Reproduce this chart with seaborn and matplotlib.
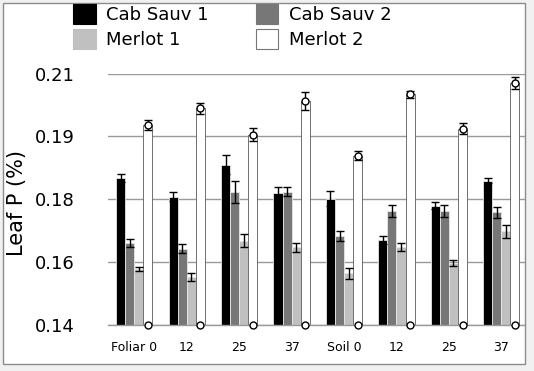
import matplotlib
matplotlib.use("Agg")
import matplotlib.pyplot as plt
from matplotlib.patches import Patch, Rectangle
import numpy as np
import pandas as pd
import seaborn as sns

# Treatment groups (keys unique for seaborn, labels shown on the axis)
group_keys = ["F0", "F12", "F25", "F37", "S0", "S12", "S25", "S37"]
group_labels = ["Foliar 0", "12", "25", "37", "Soil 0", "12", "25", "37"]

series = ["Cab Sauv 1", "Cab Sauv 2", "Merlot 1", "Merlot 2"]
colors = ["#000000", "#777777", "#c0c0c0", "#ffffff"]

# Leaf P (%) means and errors
cab1 = [0.1809, 0.1757, 0.1846, 0.1768, 0.1751, 0.1636, 0.1732, 0.1802]
cab1_err = [0.0012, 0.0012, 0.0026, 0.0015, 0.0021, 0.0012, 0.0009, 0.0007]
cab2 = [0.1629, 0.1612, 0.1770, 0.1771, 0.1648, 0.1718, 0.1718, 0.1713]
cab2_err = [0.0011, 0.0012, 0.0030, 0.0012, 0.0014, 0.0017, 0.0017, 0.0015]
mer1 = [0.1556, 0.1532, 0.1634, 0.1616, 0.1543, 0.1616, 0.1573, 0.1660]
mer1_err = [0.0005, 0.0011, 0.0018, 0.0013, 0.0016, 0.0011, 0.0008, 0.0018]
mer2 = [0.1957, 0.2003, 0.1930, 0.2025, 0.1871, 0.2043, 0.1947, 0.2074]
mer2_err = [0.0013, 0.0014, 0.0018, 0.0025, 0.0013, 0.0010, 0.0015, 0.0018]

# Axis ticks (Excel-style: 5 evenly spaced lines, labels rounded)
y_ticks = [0.14, 0.1575, 0.175, 0.1925, 0.21]
y_tick_labels = ["0.14", "0.16", "0.18", "0.19", "0.21"]

values = [cab1, cab2, mer1, mer2]
errors = [cab1_err, cab2_err, mer1_err, mer2_err]

rows = []
for s, vals in zip(series, values):
    for g, v in zip(group_keys, vals):
        rows.append({"group": g, "series": s, "value": v})
data = pd.DataFrame(rows)

sns.set_style("white")
plt.rcParams["font.family"] = ["DejaVu Sans"]
plt.rcParams["text.color"] = "black"
plt.rcParams["xtick.color"] = "black"
plt.rcParams["ytick.color"] = "black"
plt.rcParams["axes.labelcolor"] = "black"

fig = plt.figure(figsize=(5.34, 3.71), dpi=100)
fig.patch.set_facecolor("#f1f1f1")
# white panel with thin gray border, behind everything
fig.patches.append(Rectangle((3 / 534, 1 - 364 / 371), 522 / 534, 361 / 371,
                             transform=fig.transFigure, facecolor="white",
                             edgecolor="#8c8c8c", linewidth=1.0, zorder=-10))

ax = fig.add_axes([108 / 534, 1 - 324.7 / 371, 417 / 534, (324.7 - 73.7) / 371])
ax.set_facecolor("none")

sns.barplot(data=data, x="group", y="value", hue="series", order=group_keys,
            hue_order=series, palette=colors, errorbar=None, width=0.69,
            legend=False, ax=ax, zorder=2)

bar_containers = list(ax.containers)
for i, cont in enumerate(bar_containers):
    xs = []
    for p in cont.patches:
        p.set_linewidth(0.6)
        p.set_edgecolor("#5a5a5a" if i == 3 else "#e6e6e6")
        xs.append(p.get_x() + p.get_width() / 2)
    ax.errorbar(xs, values[i], yerr=errors[i], fmt="none", ecolor="black",
                elinewidth=1.0, capsize=3, capthick=1.0, zorder=4)
    if i == 3:
        ax.plot(xs, values[i], "o", ms=5, mfc="white", mec="black", mew=1.0,
                zorder=5, clip_on=False)
        ax.plot(xs, [0.14] * len(xs), "o", ms=5, mfc="white", mec="black",
                mew=1.0, zorder=5, clip_on=False)

ax.set_ylim(0.14, 0.21)
ax.set_xlim(-0.5, 7.45)
ax.set_yticks(y_ticks)
ax.set_yticklabels(y_tick_labels, fontsize=13)
ax.set_xticks(range(len(group_keys)))
ax.set_xticklabels(group_labels, fontsize=9)
ax.set_xticks(np.arange(-0.5, 7.5, 1), minor=True)
ax.tick_params(axis="x", which="major", length=0, pad=12)
ax.tick_params(axis="x", which="minor", length=4, color="#8c8c8c", width=1)
ax.tick_params(axis="y", length=0, pad=24)
ax.yaxis.grid(True, color="#999999", linewidth=1.0, zorder=0)
ax.set_axisbelow(True)
for side in ["top", "right", "left"]:
    ax.spines[side].set_visible(False)
ax.spines["bottom"].set_color("#999999")
ax.spines["bottom"].set_linewidth(1.0)

ax.set_xlabel("")
ax.set_ylabel("Leaf P (%)", fontsize=15)
ax.yaxis.set_label_coords(-0.195, 0.485)

handles = [Patch(facecolor=c, edgecolor="#777777" if c == "#ffffff" else c,
                 linewidth=0.8) for c in colors]
order = [0, 2, 1, 3]
fig.legend([handles[k] for k in order], [series[k] for k in order], ncol=2,
           loc="upper left", bbox_to_anchor=(73 / 534, 1 - 4 / 371),
           frameon=False, fontsize=13, handlelength=1.25, handleheight=1.3,
           handletextpad=0.6, columnspacing=2.6, labelspacing=0.3,
           borderpad=0, borderaxespad=0)

fig.savefig("out.png", dpi=100, facecolor=fig.get_facecolor())
